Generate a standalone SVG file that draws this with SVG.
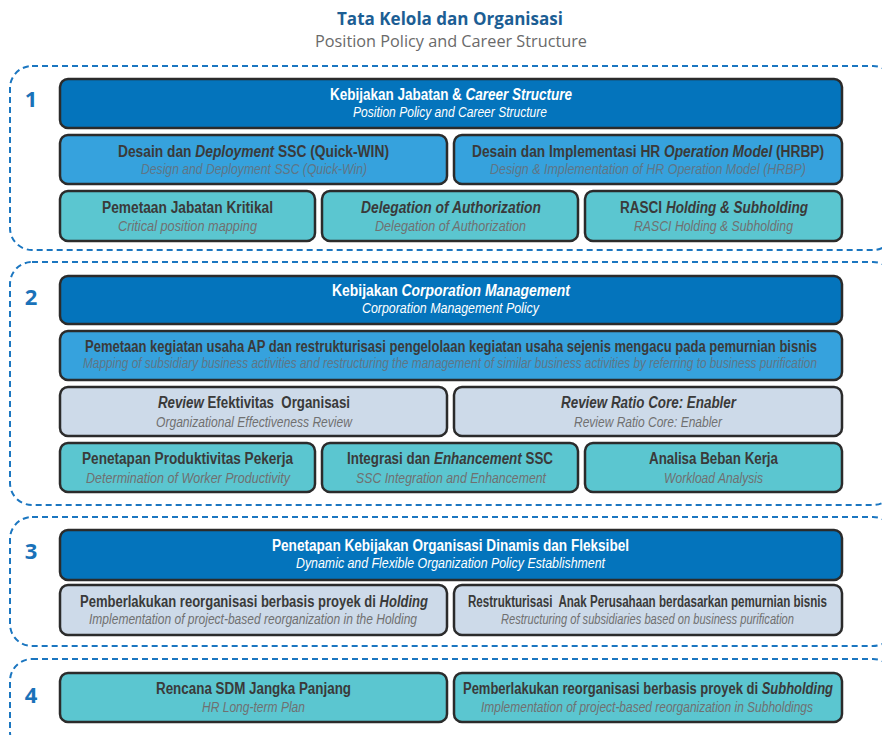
<svg xmlns="http://www.w3.org/2000/svg" width="882" height="735" viewBox="0 0 882 735">
<style>
.frame{fill:none;stroke:#1b76c0;stroke-width:2;stroke-dasharray:6 4}
.num{font-family:"Open Sans","Liberation Sans",sans-serif;font-weight:bold;font-size:22px;fill:#1a72b9;text-anchor:middle}
.box{stroke:#2b2b2b;stroke-width:2.5}
.dk{fill:#0474bc}.md{fill:#36a2dd}.tl{fill:#5bc6d0}.lt{fill:#cddae9}
.m{font-family:"Liberation Sans",Arial,sans-serif;font-weight:bold;font-size:16px;text-anchor:middle;fill:#3a3a3a}
.s{font-family:"Liberation Sans",Arial,sans-serif;font-style:italic;font-size:14px;text-anchor:middle;fill:#707070}
.w{fill:#ffffff}
.i{font-style:italic}
</style>
<rect width="882" height="735" fill="#ffffff"/>
<g id="title">
<text x="450" y="25" textLength="226" lengthAdjust="spacingAndGlyphs" style="font-family:'Open Sans','Liberation Sans',sans-serif;font-weight:bold;font-size:17px;fill:#1c5e94;text-anchor:middle">Tata Kelola dan Organisasi</text>
<text x="451" y="47" textLength="272" lengthAdjust="spacingAndGlyphs" style="font-family:'Open Sans','Liberation Sans',sans-serif;font-size:16px;fill:#6a6a6a;text-anchor:middle">Position Policy and Career Structure</text>
</g>
<g id="frames">
<rect class="frame" x="10" y="66" width="885" height="184" rx="22"/>
<rect class="frame" x="10" y="262" width="885" height="243" rx="22"/>
<rect class="frame" x="10" y="517" width="885" height="129" rx="22"/>
<rect class="frame" x="10" y="659" width="885" height="95" rx="22"/>
<text class="num" x="31" y="107">1</text>
<text class="num" x="31" y="305">2</text>
<text class="num" x="31" y="559">3</text>
<text class="num" x="31" y="703">4</text>
</g>
<g id="connectors"/>
<!-- Section 1 -->
<g id="s1a"><rect class="box dk" x="60" y="79" width="782" height="49" rx="8"/>
<text class="m w" x="451" y="99.5" textLength="242" lengthAdjust="spacingAndGlyphs">Kebijakan Jabatan &amp; <tspan class="i">Career Structure</tspan></text>
<text class="s w" x="450" y="117" textLength="194" lengthAdjust="spacingAndGlyphs">Position Policy and Career Structure</text></g>
<g id="s1b1"><rect class="box md" x="60" y="135" width="387" height="49" rx="8"/>
<text class="m" x="253.5" y="156.5" textLength="271" lengthAdjust="spacingAndGlyphs">Desain dan <tspan class="i">Deployment</tspan> SSC (Quick-WIN)</text>
<text class="s" x="254" y="174" textLength="226" lengthAdjust="spacingAndGlyphs" style="fill:#5f7586">Design and Deployment SSC (Quick-Win)</text></g>
<g id="s1b2"><rect class="box md" x="454" y="135" width="388" height="49" rx="8"/>
<text class="m" x="648" y="156.5" textLength="352" lengthAdjust="spacingAndGlyphs">Desain dan Implementasi HR <tspan class="i">Operation Model</tspan> (HRBP)</text>
<text class="s" x="648" y="174" textLength="316" lengthAdjust="spacingAndGlyphs" style="fill:#5f7586">Design &amp; Implementation of HR Operation Model (HRBP)</text></g>
<g id="s1c1"><rect class="box tl" x="60" y="191" width="255" height="50" rx="8"/>
<text class="m" x="187.5" y="213" textLength="171" lengthAdjust="spacingAndGlyphs">Pemetaan Jabatan Kritikal</text>
<text class="s" x="187.5" y="231" textLength="139" lengthAdjust="spacingAndGlyphs">Critical position mapping</text></g>
<g id="s1c2"><rect class="box tl" x="322" y="191" width="256" height="50" rx="8"/>
<text class="m i" x="451" y="213" textLength="180" lengthAdjust="spacingAndGlyphs">Delegation of Authorization</text>
<text class="s" x="450.5" y="231" textLength="151" lengthAdjust="spacingAndGlyphs">Delegation of Authorization</text></g>
<g id="s1c3"><rect class="box tl" x="585" y="191" width="257" height="50" rx="8"/>
<text class="m" x="714" y="213" textLength="188" lengthAdjust="spacingAndGlyphs">RASCI <tspan class="i">Holding &amp; Subholding</tspan></text>
<text class="s" x="713.5" y="231" textLength="159" lengthAdjust="spacingAndGlyphs">RASCI Holding &amp; Subholding</text></g>
<!-- Section 2 -->
<g id="s2a"><rect class="box dk" x="60" y="276" width="782" height="48" rx="8"/>
<text class="m w" x="451" y="296" textLength="238" lengthAdjust="spacingAndGlyphs">Kebijakan <tspan class="i">Corporation Management</tspan></text>
<text class="s w" x="450.5" y="313" textLength="177" lengthAdjust="spacingAndGlyphs">Corporation Management Policy</text></g>
<g id="s2b"><rect class="box md" x="60" y="331" width="782" height="49" rx="8"/>
<text class="m" x="451" y="352" textLength="732" lengthAdjust="spacingAndGlyphs">Pemetaan kegiatan usaha AP dan restrukturisasi pengelolaan kegiatan usaha sejenis mengacu pada pemurnian bisnis</text>
<text class="s" x="450" y="368" textLength="734" lengthAdjust="spacingAndGlyphs" style="fill:#5f7586">Mapping of subsidiary business activities and restructuring the management of similar business activities by referring to business purification</text></g>
<g id="s2c1"><rect class="box lt" x="60" y="387" width="387" height="49" rx="8"/>
<text class="m" x="254" y="408" textLength="192" lengthAdjust="spacingAndGlyphs" xml:space="preserve"><tspan class="i">Review</tspan> Efektivitas  Organisasi</text>
<text class="s" x="254" y="426.5" textLength="196" lengthAdjust="spacingAndGlyphs">Organizational Effectiveness Review</text></g>
<g id="s2c2"><rect class="box lt" x="454" y="387" width="388" height="49" rx="8"/>
<text class="m i" x="648.5" y="408" textLength="175" lengthAdjust="spacingAndGlyphs">Review Ratio Core: Enabler</text>
<text class="s" x="648" y="426.5" textLength="148" lengthAdjust="spacingAndGlyphs">Review Ratio Core: Enabler</text></g>
<g id="s2d1"><rect class="box tl" x="60" y="443" width="255" height="49" rx="8"/>
<text class="m" x="187.5" y="464" textLength="211" lengthAdjust="spacingAndGlyphs">Penetapan Produktivitas Pekerja</text>
<text class="s" x="188" y="482.5" textLength="204" lengthAdjust="spacingAndGlyphs">Determination of Worker Productivity</text></g>
<g id="s2d2"><rect class="box tl" x="322" y="443" width="256" height="49" rx="8"/>
<text class="m" x="450" y="464" textLength="206" lengthAdjust="spacingAndGlyphs">Integrasi dan <tspan class="i">Enhancement</tspan> SSC</text>
<text class="s" x="451" y="482.5" textLength="190" lengthAdjust="spacingAndGlyphs">SSC Integration and Enhancement</text></g>
<g id="s2d3"><rect class="box tl" x="585" y="443" width="257" height="49" rx="8"/>
<text class="m" x="713.5" y="464" textLength="129" lengthAdjust="spacingAndGlyphs">Analisa Beban Kerja</text>
<text class="s" x="713.5" y="482.5" textLength="99" lengthAdjust="spacingAndGlyphs">Workload Analysis</text></g>
<!-- Section 3 -->
<g id="s3a"><rect class="box dk" x="60" y="530" width="782" height="50" rx="8"/>
<text class="m w" x="450.5" y="551" textLength="357" lengthAdjust="spacingAndGlyphs">Penetapan Kebijakan Organisasi Dinamis dan Fleksibel</text>
<text class="s w" x="450.5" y="568" textLength="309" lengthAdjust="spacingAndGlyphs">Dynamic and Flexible Organization Policy Establishment</text></g>
<g id="s3b1"><rect class="box lt" x="60" y="585" width="387" height="50" rx="8"/>
<text class="m" x="254" y="607" textLength="348" lengthAdjust="spacingAndGlyphs">Pemberlakukan reorganisasi berbasis proyek di <tspan class="i">Holding</tspan></text>
<text class="s" x="253" y="624" textLength="328" lengthAdjust="spacingAndGlyphs">Implementation of project-based reorganization in the Holding</text></g>
<g id="s3b2"><rect class="box lt" x="454" y="585" width="388" height="50" rx="8"/>
<text class="m" x="647.5" y="607" textLength="359" lengthAdjust="spacingAndGlyphs" xml:space="preserve">Restrukturisasi  Anak Perusahaan berdasarkan pemurnian bisnis</text>
<text class="s" x="647.5" y="624" textLength="293" lengthAdjust="spacingAndGlyphs">Restructuring of subsidiaries based on business purification</text></g>
<!-- Section 4 -->
<g id="s4b1"><rect class="box tl" x="60" y="673" width="387" height="49" rx="8"/>
<text class="m" x="253.5" y="694" textLength="195" lengthAdjust="spacingAndGlyphs">Rencana SDM Jangka Panjang</text>
<text class="s" x="253.5" y="712" textLength="103" lengthAdjust="spacingAndGlyphs">HR Long-term Plan</text></g>
<g id="s4b2"><rect class="box tl" x="454" y="673" width="388" height="49" rx="8"/>
<text class="m" x="648" y="694" textLength="370" lengthAdjust="spacingAndGlyphs">Pemberlakukan reorganisasi berbasis proyek di <tspan class="i">Subholding</tspan></text>
<text class="s" x="647" y="712" textLength="332" lengthAdjust="spacingAndGlyphs">Implementation of project-based reorganization in Subholdings</text></g>
</svg>
